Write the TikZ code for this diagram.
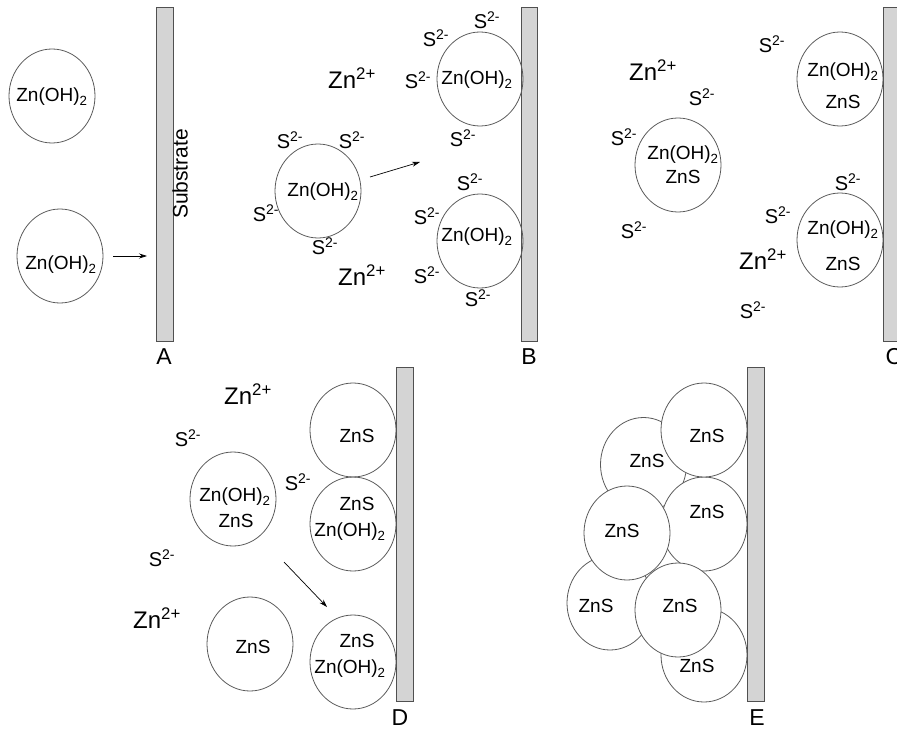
\documentclass[tikz,border=0pt]{standalone}
\usepackage{fontspec}
\setmainfont{Liberation Sans}
\usetikzlibrary{shapes.geometric,arrows.meta}
\definecolor{circ}{HTML}{5A5A5A}
\definecolor{barfill}{HTML}{D4D4D4}
\definecolor{bord}{HTML}{505050}
\newcommand\Sion{S\textsuperscript{2-}}
\newcommand\Znion{Zn\textsuperscript{2+}}
\newcommand\ZnOH{Zn(OH)\textsubscript{2}}
\begin{document}
\begin{tikzpicture}[x=1pt,y=-1pt,
 particle/.style={ellipse,draw=circ,line width=0.8pt,minimum width=86pt,minimum height=94pt,inner sep=0pt},
 fparticle/.style={particle,fill=white},
 substrate/.style={draw=bord,fill=barfill,line width=0.8pt},
 lbl/.style={font=\fontsize{19}{19}\selectfont,inner sep=0pt},
 ion/.style={font=\fontsize{24}{24}\selectfont,inner sep=0pt},
 sion/.style={font=\fontsize{20}{20}\selectfont,inner sep=0pt},
 panel/.style={font=\fontsize{23}{23}\selectfont,inner sep=0pt},
 arr/.style={-{Stealth[length=8pt,width=5pt]},line width=0.7pt}
]
\useasboundingbox (0,0) rectangle (897,733);
\clip (0,0) rectangle (897,733);
\fill[white] (0,0) rectangle (897,733);

% ---------- Panel A ----------
\draw[substrate] (156,7) rectangle (173,341);
\node[rotate=90,font=\fontsize{21}{21}\selectfont,inner sep=0pt] (subs) at (180,174) {Substrate};
\node[particle] (a1) at (52,96) {};
\node[lbl] (a1t) at (52,97) {\ZnOH};
\node[particle] (a2) at (60,256) {};
\node[lbl] (a2t) at (61,265) {\ZnOH};
\coordinate (aas) at (113,256);
\coordinate (aae) at (147,256);
\draw[arr] (aas) -- (aae);
\node[panel] (A) at (164,357) {A};

% ---------- Panel B ----------
\draw[substrate] (521,7) rectangle (537,341);
\node[particle] (b1) at (318,191) {};
\node[lbl] (b1t) at (323,192) {\ZnOH};
\node[sion] at (290,140) {\Sion};
\node[sion] at (352,140) {\Sion};
\node[sion] at (266,213) {\Sion};
\node[sion] at (325,246) {\Sion};
\node[ion] at (352,78) {\Znion};
\node[ion] at (362,275) {\Znion};
\node[particle] (b2) at (480,79) {};
\node[lbl] (b2t) at (477,80) {\ZnOH};
\node[sion] at (487,20) {\Sion};
\node[sion] at (436,38) {\Sion};
\node[sion] at (418,80) {\Sion};
\node[sion] at (463,138) {\Sion};
\node[particle] (b3) at (480,241) {};
\node[lbl] (b3t) at (477,237) {\ZnOH};
\node[sion] at (470,182) {\Sion};
\node[sion] at (427,216) {\Sion};
\node[sion] at (427,275) {\Sion};
\node[sion] at (478,298) {\Sion};
\coordinate (bas) at (370,177);
\coordinate (bae) at (420,162);
\draw[arr] (bas) -- (bae);
\node[panel] (B) at (529,357) {B};

% ---------- Panel C ----------
\draw[substrate] (883,7) rectangle (905,341);
\node[particle] (c1) at (840,79) {};
\node[lbl] at (843,72) {\ZnOH};
\node[lbl] at (843,102) {ZnS};
\node[sion] at (772,44) {\Sion};
\node[particle] (c2) at (678,165) {};
\node[lbl] at (683,155) {\ZnOH};
\node[lbl] at (683,177) {ZnS};
\node[ion] at (653,70) {\Znion};
\node[sion] at (702,97) {\Sion};
\node[sion] at (624,137) {\Sion};
\node[sion] at (634,230) {\Sion};
\node[particle] (c3) at (840,240) {};
\node[lbl] at (843,230) {\ZnOH};
\node[lbl] at (843,264) {ZnS};
\node[sion] at (848,182) {\Sion};
\node[sion] at (778,215) {\Sion};
\node[sion] at (753,310) {\Sion};
\node[ion] at (763,259) {\Znion};
\node[panel] (C) at (894,357) {C};

% ---------- Panel D ----------
\draw[substrate] (396,367) rectangle (413,701);
\node[particle] (d1) at (353,430) {};
\node[lbl] at (357,436) {ZnS};
\node[particle] (d2) at (353,524) {};
\node[lbl] at (357,504) {ZnS};
\node[lbl] at (350,532) {\ZnOH};
\node[particle] (d3) at (353,662) {};
\node[lbl] at (357,641) {ZnS};
\node[lbl] at (350,669) {\ZnOH};
\node[particle] (d4) at (233,499) {};
\node[lbl] at (235,497) {\ZnOH};
\node[lbl] at (236,521) {ZnS};
\node[particle] (d5) at (250,644) {};
\node[lbl] at (253,647) {ZnS};
\node[ion] at (248,394) {\Znion};
\node[sion] at (188,438) {\Sion};
\node[sion] at (298,482) {\Sion};
\node[sion] at (162,558) {\Sion};
\node[ion] at (157,618) {\Znion};
\coordinate (das) at (284,562);
\coordinate (dae) at (327,607);
\draw[arr] (das) -- (dae);
\node[panel] (D) at (400,718) {D};

% ---------- Panel E ----------
\draw[substrate] (747,367) rectangle (764,701);
\node[fparticle] (e1) at (643.5,464.5) {};
\node[lbl] at (647,461) {ZnS};
\node[fparticle] (e3) at (704,524) {};
\node[lbl] at (707,512) {ZnS};
\node[fparticle] (e2) at (704,430) {};
\node[lbl] at (707,436) {ZnS};
\node[fparticle] (e7) at (704,655) {};
\node[lbl] at (697,666) {ZnS};
\node[fparticle] (e5) at (610,603) {};
\node[lbl] at (596,606) {ZnS};
\node[fparticle] (e4) at (627,533) {};
\node[lbl] at (622,531) {ZnS};
\node[fparticle] (e6) at (678,610) {};
\node[lbl] at (680,606) {ZnS};
\node[panel] (E) at (757,718) {E};
\end{tikzpicture}
\end{document}
